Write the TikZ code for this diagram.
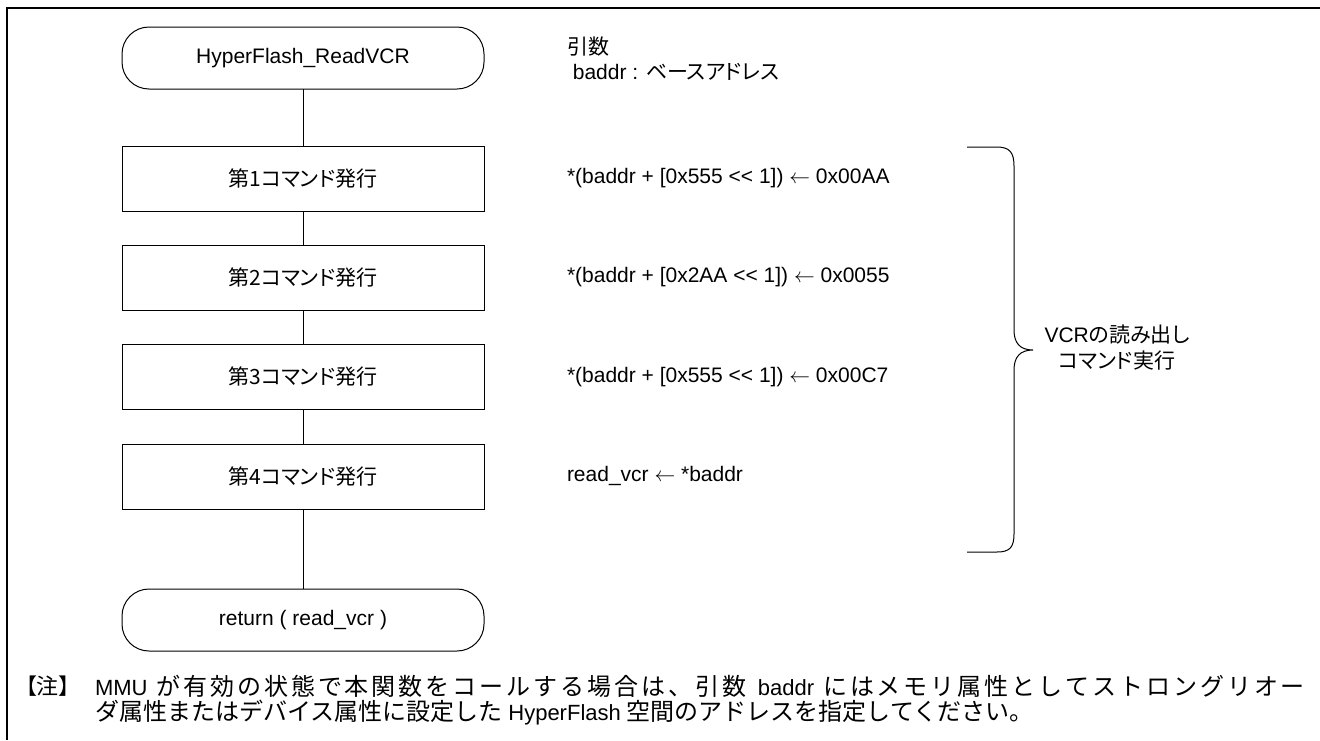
\documentclass[tikz,border=0pt]{standalone}
\usepackage{fontspec}
\setmainfont{Liberation Sans}
\newfontfamily\cjk[RawFeature=+palt]{Noto Sans CJK JP}
\newfontfamily\cjkn{Noto Sans CJK JP}
\makeatletter
\newcommand\spreadchars[1]{\@tfor\sp@c:=#1\do{\sp@c\hskip 0pt plus 1fil\relax}}
\makeatother
\newcommand\jn{\fontsize{24}{28}\selectfont\cjkn}
\begin{document}
\begin{tikzpicture}[x=1pt,y=-1pt,
  every node/.style={inner sep=0pt, outer sep=0pt},
  txt/.style={font=\fontsize{21}{26}\selectfont},
  term/.style={txt, draw, line width=1pt, rounded corners=27pt, minimum width=362pt, minimum height=62pt},
  proc/.style={txt, draw, line width=1pt, minimum width=362pt, minimum height=65pt},
  code/.style={txt, anchor=west},
  note/.style={font=\fontsize{22}{28}\selectfont, anchor=west},
  flow/.style={line width=1pt},
  frame/.style={line width=2.5pt}]
\useasboundingbox (0,0) rectangle (1320,740);
\draw[frame] (7,740) -- (7,8) -- (1320,8);

\node[term] (start) at (303,58) {HyperFlash\_ReadVCR};
\node[proc] (b1) at (303,178.5) {\cjk 第1コマンド発行};
\node[proc] (b2) at (303,277.5) {\cjk 第2コマンド発行};
\node[proc] (b3) at (303,376.5) {\cjk 第3コマンド発行};
\node[proc] (b4) at (303,476.5) {\cjk 第4コマンド発行};
\node[term] (ret) at (303,620) {return ( read\_vcr )};

\draw[flow] (start) -- (b1);
\draw[flow] (b1) -- (b2);
\draw[flow] (b2) -- (b3);
\draw[flow] (b3) -- (b4);
\draw[flow] (b4) -- (ret);

\node[code] (arg) at (567,47) {\cjk 引数};
\node[code] (argb) at (567,72) {\ baddr : {\cjk ベースアドレス}};
\node[code] (c1) at (567,178) {*(baddr + [0x555 <{}< 1]) $\leftarrow$ 0x00AA};
\node[code] (c2) at (567,277) {*(baddr + [0x2AA <{}< 1]) $\leftarrow$ 0x0055};
\node[code] (c3) at (567,377) {*(baddr + [0x555 <{}< 1]) $\leftarrow$ 0x00C7};
\node[code] (c4) at (567,476) {read\_vcr $\leftarrow$ *baddr};

\draw[line width=1pt] (967,147) -- (997,147)
  .. controls (1010,147) and (1014,153) .. (1014,166) -- (1014,330)
  .. controls (1014,343) and (1020,350) .. (1033,350)
  .. controls (1020,350) and (1014,357) .. (1014,370) -- (1014,534)
  .. controls (1014,547) and (1010,552) .. (997,552) -- (967,552);
\node[txt, align=center] (lbl) at (1117,348) {VCR{\cjk の読み出し}\\{\cjk コマンド実行}};

\node[note, font=\fontsize{22}{28}\selectfont\cjkn] (nt) at (15,686) {【注】};
\node[note] (n1) at (95,686) {\makebox[1210pt][s]{MMU\hskip 6pt plus 1fil{\jn\spreadchars{が有効の状態で本関数をコールする場合は、引数}}\hskip 6pt plus 1fil baddr\hskip 6pt plus 1fil{\jn\spreadchars{にはメモリ属性としてストロングリオ}ー}}};
\node[note] (n2) at (95,713) {{\jn ダ属性またはデバイス属性に設定した} HyperFlash {\jn 空間のアドレスを指定してください。}};
\end{tikzpicture}
\end{document}
